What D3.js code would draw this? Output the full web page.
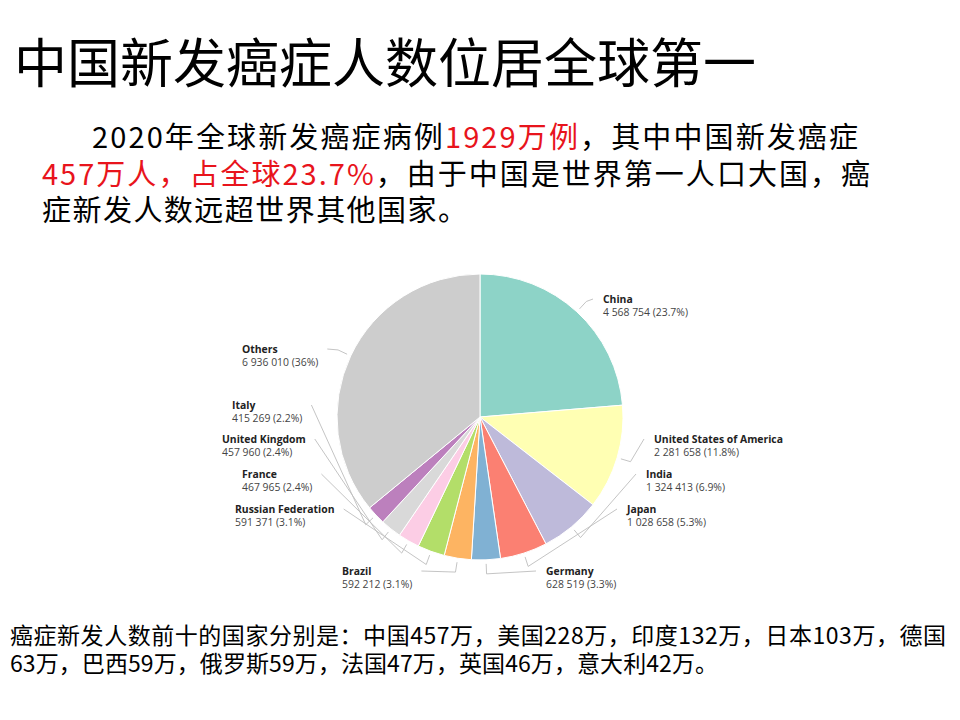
<!DOCTYPE html>
<html>

<head>
  <meta charset="utf8">
  <script src="https://d3js.org/d3.v7.min.js"></script>
  <style>
    body { margin: 0; background: #fff; }
    .cjk { font-family: "Noto Sans CJK SC", sans-serif; fill: #000; }
    .red { fill: #e8141c; }
    .lbl { font-family: "Open Sans", "Noto Sans", sans-serif; font-size: 10.4px; }
    .lbl .name { font-weight: bold; fill: #222; }
    .lbl .val { fill: #444; }
    .leader { stroke: #bdbdbd; stroke-width: 0.9; fill: none; }
  </style>
</head>

<body>
  <svg id="chart" width="960" height="720"></svg>

  <script>
    var countries = ['China', 'United States of America', 'India', 'Japan', 'Germany', 'Brazil',
      'Russian Federation', 'France', 'United Kingdom', 'Italy', 'Others'];
    var cases = [4568754, 2281658, 1324413, 1028658, 628519, 592212, 591371, 467965, 457960, 415269, 6936010];
    var colors = ['#8dd3c7', '#ffffb3', '#bebada', '#fb8072', '#80b1d3', '#fdb462',
      '#b3de69', '#fccde5', '#d9d9d9', '#bc80bd', '#cdcdcd'];

    var title = '中国新发癌症人数位居全球第一';
    var para = [
      [['2020年全球新发癌症病例', 0], ['1929万例', 1], ['，其中中国新发癌症', 0]],
      [['457万人，占全球23.7%', 1], ['，由于中国是世界第一人口大国，癌', 0]],
      [['症新发人数远超世界其他国家。', 0]]
    ];
    var footer = [
      '癌症新发人数前十的国家分别是：中国457万，美国228万，印度132万，日本103万，德国',
      '63万，巴西59万，俄罗斯59万，法国47万，英国46万，意大利42万。'
    ];

    // label anchor (name baseline) per slice
    var labelPos = [[603, 303], [654, 443], [646, 478], [627, 513], [546, 575], [342, 575],
      [235, 513], [242, 478], [222, 443], [232, 409], [242, 353]];

    var svg = d3.select('#chart');

    svg.append('text')
      .attr('class', 'cjk')
      .attr('x', 14)
      .attr('y', 83)
      .style('font-size', '53px')
      .text(title);

    // paragraph lines: x, baseline, width
    var paraX = [92, 42, 42];
    var paraY = [148, 185, 221];
    var paraW = [766, 828, 425];
    para.forEach(function (line, i) {
      var t = svg.append('text')
        .attr('class', 'cjk')
        .attr('x', paraX[i])
        .attr('y', paraY[i])
        .attr('textLength', paraW[i])
        .attr('lengthAdjust', 'spacing')
        .style('font-size', '29px');
      line.forEach(function (p) {
        t.append('tspan').attr('class', p[1] ? 'red' : null).text(p[0]);
      });
    });

    var footW = [936, 708];
    svg.selectAll('.foot')
      .data(footer)
      .enter().append('text')
      .attr('class', 'cjk foot')
      .attr('x', 10)
      .attr('y', (d, i) => 644 + i * 28)
      .attr('textLength', (d, i) => footW[i])
      .attr('lengthAdjust', 'spacing')
      .style('font-size', '23px')
      .text((d) => d);

    // pie
    var cx = 480, cy = 417, r = 143;
    var data = countries.map((c, i) => ({ name: c, v: cases[i], color: colors[i], pos: labelPos[i] }));
    var total = d3.sum(cases);
    var num = d3.formatLocale({ decimal: '.', thousands: ' ', grouping: [3], currency: ['', ''] }).format(',d');
    var pct = (v) => d3.format('.1f')(v / total * 100).replace(/\.0$/, '') + '%';

    var pie = d3.pie().sort(null).value((d) => d.v);
    var arc = d3.arc().innerRadius(0).outerRadius(r);
    var arcs = pie(data);

    var g = svg.append('g').attr('transform', 'translate(' + cx + ',' + cy + ')');
    g.selectAll('path')
      .data(arcs)
      .enter().append('path')
      .attr('d', arc)
      .attr('fill', (d) => d.data.color)
      .attr('stroke', '#fff')
      .attr('stroke-width', 1);

    var polar = (a, rad) => [cx + rad * Math.sin(a), cy - rad * Math.cos(a)];

    arcs.forEach(function (d) {
      var mid = (d.startAngle + d.endAngle) / 2;
      var right = mid < Math.PI;
      var lx = d.data.pos[0], ly = d.data.pos[1];
      var t = svg.append('text').attr('class', 'lbl').attr('x', lx).attr('y', ly);
      t.append('tspan').attr('class', 'name').attr('x', lx).text(d.data.name);
      t.append('tspan').attr('class', 'val').attr('x', lx).attr('dy', 12.5)
        .text(num(d.data.v) + ' (' + pct(d.data.v) + ')');
      var end;
      if (right) {
        end = [lx - 10, ly - 4];
      } else {
        var w = t.node().getBBox().width;
        end = [lx + w + 9, ly - 4];
      }
      var pts = [end, polar(mid, r + 14), polar(mid, r + 4)];
      svg.insert('path', 'text.lbl')
        .attr('class', 'leader')
        .attr('d', d3.line()(pts));
    });
  </script>
</body>

</html>
